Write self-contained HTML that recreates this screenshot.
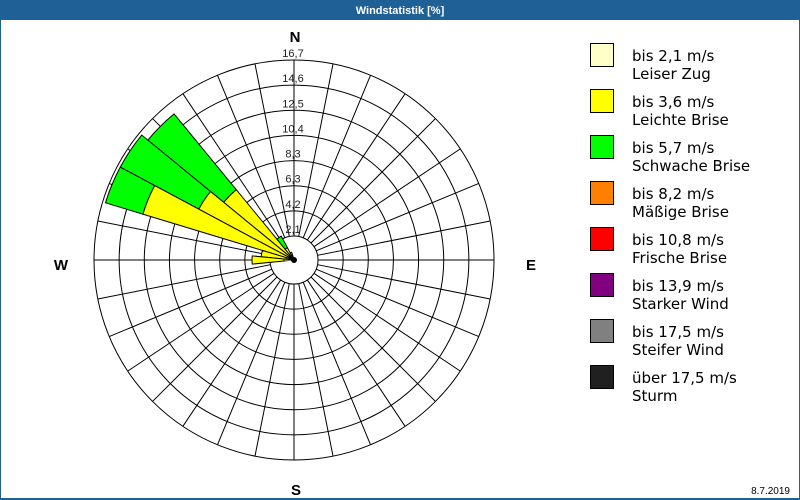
<!DOCTYPE html>
<html><head><meta charset="utf-8"><style>
html,body{margin:0;padding:0;background:#fff;}
#w{position:relative;width:800px;height:500px;overflow:hidden;font-family:"DejaVu Sans","Liberation Sans",sans-serif;}
</style></head><body><div id="w">
<svg id="s" width="800" height="500" xmlns="http://www.w3.org/2000/svg" style="position:absolute;left:0;top:0">
<rect x="0" y="0" width="800" height="20" fill="#1f6096"/>
<rect x="0.5" y="0.5" width="799" height="498.5" fill="none" stroke="#1f6096" stroke-width="1"/>
<rect x="0" y="498" width="800" height="2" fill="#1f6096"/>
<text x="400" y="14" fill="#fff" font-size="11" font-weight="bold" text-anchor="middle" font-family="Liberation Sans, sans-serif">Windstatistik [%]</text>
<g id="grid"></g>
<g id="bars"></g>
<g font-family="Liberation Sans, sans-serif" font-weight="bold" font-size="15" text-anchor="middle">
<text x="295" y="42">N</text><text x="296" y="495">S</text><text x="61" y="270">W</text><text x="531" y="270">E</text>
</g>
<g id="lbl" font-family="Liberation Sans, sans-serif" font-size="11" fill="#222" text-anchor="middle"></g>
<g font-size="15" fill="#000">
<rect x="590.5" y="43.5" width="23" height="23" fill="#ffffc8" stroke="#000"/>
<text x="632" y="61">bis 2,1 m/s</text><text x="632" y="79">Leiser Zug</text>
<rect x="590.5" y="89.5" width="23" height="23" fill="#ffff00" stroke="#000"/>
<text x="632" y="107">bis 3,6 m/s</text><text x="632" y="125">Leichte Brise</text>
<rect x="590.5" y="135.5" width="23" height="23" fill="#00ff00" stroke="#000"/>
<text x="632" y="153">bis 5,7 m/s</text><text x="632" y="171">Schwache Brise</text>
<rect x="590.5" y="181.5" width="23" height="23" fill="#ff8000" stroke="#000"/>
<text x="632" y="199">bis 8,2 m/s</text><text x="632" y="217">Mäßige Brise</text>
<rect x="590.5" y="227.5" width="23" height="23" fill="#ff0000" stroke="#000"/>
<text x="632" y="245">bis 10,8 m/s</text><text x="632" y="263">Frische Brise</text>
<rect x="590.5" y="273.5" width="23" height="23" fill="#800080" stroke="#000"/>
<text x="632" y="291">bis 13,9 m/s</text><text x="632" y="309">Starker Wind</text>
<rect x="590.5" y="319.5" width="23" height="23" fill="#808080" stroke="#000"/>
<text x="632" y="337">bis 17,5 m/s</text><text x="632" y="355">Steifer Wind</text>
<rect x="590.5" y="365.5" width="23" height="23" fill="#202020" stroke="#000"/>
<text x="632" y="383">über 17,5 m/s</text><text x="632" y="401">Sturm</text>
</g>
<text x="790" y="494" font-size="10" text-anchor="end" font-family="Liberation Sans, sans-serif">8.7.2019</text>
</svg>
<script>
var cx=294,cy=260,R=200,r0=24,NS="http://www.w3.org/2000/svg";
function el(t,a,p){var e=document.createElementNS(NS,t);for(var k in a)e.setAttribute(k,a[k]);p.appendChild(e);return e;}
function P(r,b){var a=b*Math.PI/180;return [cx+r*Math.sin(a),cy-r*Math.cos(a)];}
var g=document.getElementById('grid');
for(var i=0;i<32;i++){var b=i*11.25,p1=P(r0,b),p2=P(R,b);el('line',{x1:p1[0],y1:p1[1],x2:p2[0],y2:p2[1],stroke:'#000','stroke-width':1},g);}
for(var i=0;i<8;i++){el('circle',{cx:cx,cy:cy,r:r0+i*(R-r0)/7,fill:'none',stroke:'#000','stroke-width':1},g);}
var lb=['2,1','4,2','6,3','8,3','10,4','12,5','14,6','16,7'],L=document.getElementById('lbl');
for(var i=0;i<8;i++){var t=el('text',{x:cx-1,y:cy-(r0+i*(R-r0)/7)-3},L);t.textContent=lb[i];}
var C={ly:'#ffffc8',y:'#ffff00',g:'#00ff00'};
var bars=[[315,[['ly',0,6],['y',6,91],['g',91,189]]],[303.75,[['ly',0,6],['y',6,108],['g',108,197]]],[292.5,[['ly',0,5],['y',5,158],['g',158,197]]],[281.25,[['ly',0,8],['y',8,33]]],[270,[['ly',0,10],['y',10,42]]],[326.25,[['ly',0,5],['y',5,14],['g',14,27]]],[337.5,[['ly',0,4],['y',4,8]]]];
var B=document.getElementById('bars');
bars.forEach(function(d){var b=d[0];d[1].forEach(function(s){var a1=b-5.625,a2=b+5.625,p1=P(s[1],a1),p2=P(s[2],a1),p3=P(s[2],a2),p4=P(s[1],a2);
el('path',{d:'M'+p1+'L'+p2+'A'+s[2]+','+s[2]+' 0 0 1 '+p3+'L'+p4+(s[1]>0?'A'+s[1]+','+s[1]+' 0 0 0 '+p1:'')+'Z',fill:C[s[0]],stroke:'#000','stroke-width':1},B);});});
el('circle',{cx:cx,cy:cy,r:3,fill:'#000'},B);
</script>
</div></body></html>
